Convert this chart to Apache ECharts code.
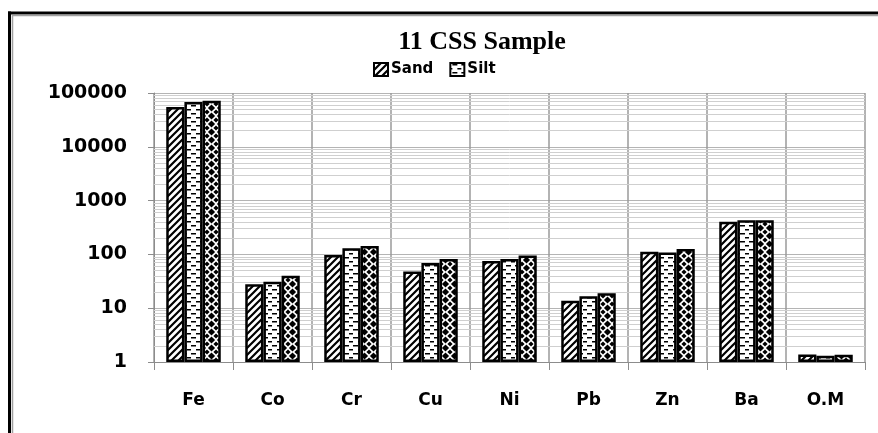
<!DOCTYPE html>
<html>
<head>
<meta charset="utf-8">
<script src="https://cdn.jsdelivr.net/npm/echarts@6/dist/echarts.min.js"></script>
<style>
  html, body { margin: 0; padding: 0; background: #fff; }
  #chart { width: 878px; height: 433px; }
</style>
</head>
<body>
<div id="chart"></div>
<script>
// Element categories and concentrations per grain-size fraction
const categories = ['Fe', 'Co', 'Cr', 'Cu', 'Ni', 'Pb', 'Zn', 'Ba', 'O.M'];
const sand = [55000, 28, 97, 48, 75, 13.8, 112, 405, 1.38];
const silt = [68000, 31, 130, 69, 82, 16.6, 108, 430, 1.3];
const clay = [72000, 40, 143, 82, 95, 19, 126, 430, 1.36];
const yTicks = [1, 10, 100, 1000, 10000, 100000];

// Fill textures for the three fractions
function tile(w, h, draw) {
  const c = document.createElement('canvas');
  c.width = w; c.height = h;
  const ctx = c.getContext('2d');
  ctx.fillStyle = '#fff';
  ctx.fillRect(0, 0, w, h);
  ctx.fillStyle = '#000';
  ctx.strokeStyle = '#000';
  draw(ctx, w, h);
  return c;
}
const hatch = tile(7, 7, (ctx, w, h) => {
  ctx.lineWidth = 2.2;
  ctx.beginPath();
  ctx.moveTo(-2, h + 2); ctx.lineTo(w + 2, -2);
  ctx.moveTo(-2, 2); ctx.lineTo(2, -2);
  ctx.moveTo(w - 2, h + 2); ctx.lineTo(w + 2, h - 2);
  ctx.stroke();
});
const dashes = tile(9, 8, (ctx) => {
  ctx.fillRect(2, 1, 5, 1.5);
  ctx.fillRect(0, 5, 2, 1.5);
  ctx.fillRect(7, 5, 2, 1.5);
});
const diamonds = tile(9, 8, (ctx, w, h) => {
  const d = (cx, cy, rx, ry) => {
    ctx.beginPath();
    ctx.moveTo(cx, cy - ry); ctx.lineTo(cx + rx, cy);
    ctx.lineTo(cx, cy + ry); ctx.lineTo(cx - rx, cy);
    ctx.closePath(); ctx.fill();
  };
  d(4.5, 4, 3.6, 3.4);
  d(0, 0, 2.6, 2.4); d(9, 0, 2.6, 2.4); d(0, 8, 2.6, 2.4); d(9, 8, 2.6, 2.4);
});

// Logarithmic minor gridlines (2..9 in each decade)
const minorLines = [];
for (let k = 0; k < 5; k++) {
  for (let m = 2; m <= 9; m++) minorLines.push({ yAxis: m * Math.pow(10, k) });
}

function barSeries(name, values, img) {
  return {
    name: name,
    type: 'bar',
    data: values,
    barGap: '0%',
    barCategoryGap: '31%',
    z: 3,
    itemStyle: {
      color: { image: img, repeat: 'repeat' },
      borderColor: '#000',
      borderWidth: 2.5
    }
  };
}

const chart = echarts.init(document.getElementById('chart'), null, { renderer: 'canvas' });
chart.setOption({
  animation: false,
  backgroundColor: '#fff',
  title: {
    text: '11 CSS Sample',
    left: 477,
    textAlign: 'center',
    top: 24,
    textStyle: { fontFamily: 'Liberation Serif', fontWeight: 'bold', fontSize: 26, color: '#000' }
  },
  legend: {
    data: ['Sand', 'Silt'],
    left: 368,
    top: 57,
    icon: 'rect',
    itemWidth: 14,
    itemHeight: 13,
    itemGap: 16,
    textStyle: { fontFamily: 'DejaVu Sans', fontWeight: 'bold', fontSize: 15, color: '#000', padding: [0, 0, 0, -2] }
  },
  grid: { left: 154, right: 13, top: 93, bottom: 71 },
  xAxis: {
    type: 'category',
    data: categories,
    axisLine: { lineStyle: { color: '#8c8c8c', width: 1 } },
    axisTick: { show: true, length: 8, lineStyle: { color: '#8c8c8c' } },
    splitLine: { show: true, lineStyle: { color: '#9a9a9a', width: 1.5 } },
    axisLabel: { margin: 30, fontFamily: 'DejaVu Sans', fontWeight: 'bold', fontSize: 17, color: '#000' }
  },
  yAxis: {
    type: 'log',
    logBase: 10,
    min: yTicks[0],
    max: yTicks[yTicks.length - 1],
    axisLine: { show: true, lineStyle: { color: '#8c8c8c', width: 1 } },
    axisTick: { show: true, length: 6, lineStyle: { color: '#8c8c8c' } },
    splitLine: { show: true, lineStyle: { color: '#b4b4b4', width: 1.2 } },
    axisLabel: {
      margin: 27,
      fontFamily: 'DejaVu Sans', fontWeight: 'bold', fontSize: 19, color: '#000',
      formatter: (v) => String(Math.round(v))
    }
  },
  graphic: [
    { type: 'line', shape: { x1: 8, y1: 13, x2: 878, y2: 13 }, style: { stroke: '#000', lineWidth: 3 } },
    { type: 'line', shape: { x1: 13, y1: 15.5, x2: 878, y2: 15.5 }, style: { stroke: '#a0a0a0', lineWidth: 1.5 } },
    { type: 'line', shape: { x1: 9.5, y1: 11.5, x2: 9.5, y2: 433 }, style: { stroke: '#000', lineWidth: 3 } },
    { type: 'line', shape: { x1: 12.5, y1: 15, x2: 12.5, y2: 433 }, style: { stroke: '#a0a0a0', lineWidth: 1.5 } }
  ],
  series: [
    {
      name: 'grid',
      type: 'line',
      data: [],
      z: 1,
      silent: true,
      markLine: {
        z: 1,
        silent: true,
        symbol: 'none',
        label: { show: false },
        lineStyle: { color: '#cfcfcf', width: 1, type: 'solid' },
        data: minorLines
      }
    },
    barSeries('Sand', sand, hatch),
    barSeries('Silt', silt, dashes),
    barSeries('Clay', clay, diamonds)
  ]
});
</script>
</body>
</html>
